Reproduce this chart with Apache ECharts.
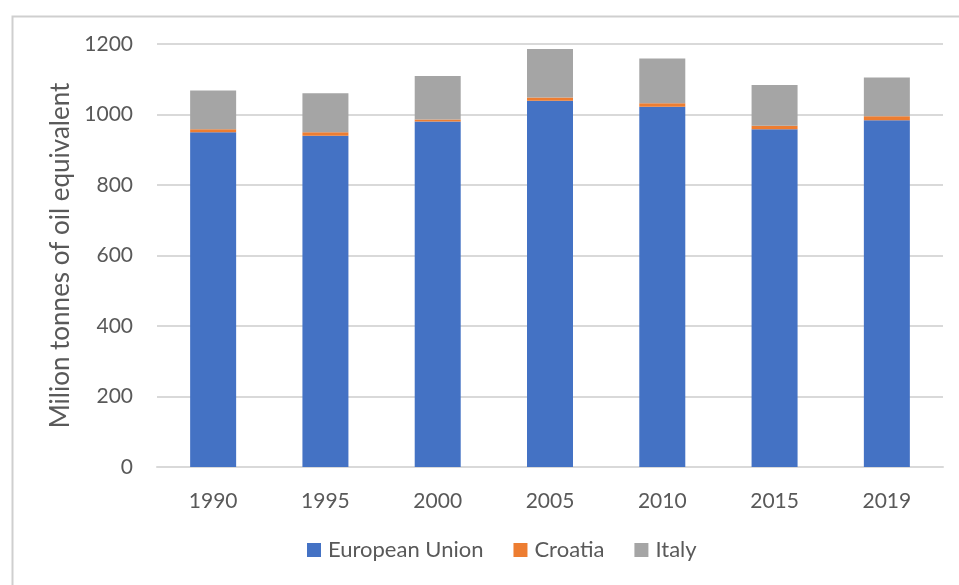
<!DOCTYPE html>
<html>
<head>
<meta charset="utf-8">
<script src="https://cdn.jsdelivr.net/npm/echarts@6/dist/echarts.min.js"></script>
<style>
html,body{margin:0;padding:0;background:#fff;}
#c{width:959px;height:585px;}
</style>
</head>
<body>
<div id="c"></div>
<script>
const categories = ['1990','1995','2000','2005','2010','2015','2019'];
const euValues = [950, 940, 980, 1039, 1022, 958, 984];
const croatiaValues = [8, 10, 6, 9, 10, 10, 11];
const italyValues = [110, 110, 123, 138, 127, 116, 110];
const yTicks = [0, 200, 400, 600, 800, 1000, 1200];

const font = 'Lato, "Open Sans", sans-serif';
const chart = echarts.init(document.getElementById('c'), null, {renderer:'canvas'});
chart.setOption({
  animation: false,
  backgroundColor: '#fff',
  graphic: [{
    type: 'rect', left: 10, top: 14, shape: {x: 0, y: 0, width: 980, height: 600},
    style: {fill: 'none', stroke: '#cfcfcf', lineWidth: 2}, z: -1
  }],
  grid: {left: 157, right: 16, top: 44, bottom: 118},
  legend: {
    data: ['European Union', 'Croatia', 'Italy'],
    bottom: 19, left: 302,
    itemWidth: 14, itemHeight: 14, itemGap: 30,
    icon: 'rect',
    textStyle: {fontFamily: font, fontSize: 22, color: '#595959', padding: [0, 0, 0, 2]}
  },
  xAxis: {
    type: 'category', data: categories,
    axisLine: {lineStyle: {color: '#d9d9d9', width: 2}},
    axisTick: {show: false},
    axisLabel: {fontFamily: font, fontSize: 21, color: '#595959', margin: 24}
  },
  yAxis: {
    type: 'value', min: yTicks[0], max: yTicks[yTicks.length-1], interval: 200,
    name: 'Milion tonnes of oil equivalent', nameLocation: 'middle', nameGap: 78,
    nameTextStyle: {fontFamily: font, fontSize: 26, color: '#595959'},
    axisLine: {show: false}, axisTick: {show: false},
    axisLabel: {fontFamily: font, fontSize: 21, color: '#595959', margin: 24,
      formatter: function (v) { return String(v); }},
    splitLine: {lineStyle: {color: '#d9d9d9', width: 2}}
  },
  series: [
    {name: 'European Union', type: 'bar', stack: 't', data: euValues, barWidth: 46, itemStyle: {color: '#4472c4'}},
    {name: 'Croatia', type: 'bar', stack: 't', data: croatiaValues, barWidth: 46, itemStyle: {color: '#ed7d31'}},
    {name: 'Italy', type: 'bar', stack: 't', data: italyValues, barWidth: 46, itemStyle: {color: '#a5a5a5'}}
  ]
});
</script>
</body>
</html>
